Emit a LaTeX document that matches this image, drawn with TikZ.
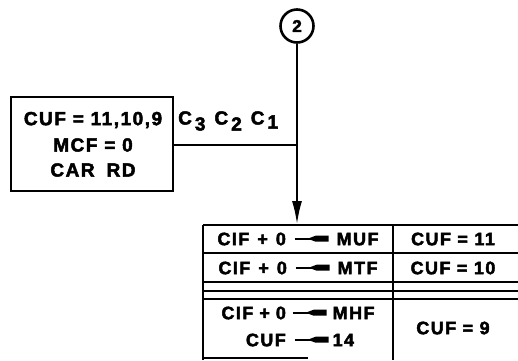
\documentclass[tikz,border=0pt]{standalone}
\usepackage{fontspec}
\setmainfont{Liberation Sans}[BoldFeatures={FakeBold=2.5}]
\usetikzlibrary{arrows.meta}
\tikzset{
  lbl/.style={font=\bfseries\fontsize{18}{20}\selectfont\addfontfeature{LetterSpace=8}, inner sep=0pt, align=center},
  boxlbl/.style={font=\bfseries\fontsize{19}{21}\selectfont\addfontfeature{LetterSpace=8}, inner sep=0pt, align=center},
  rule/.style={line width=2.6pt},
  thinrule/.style={line width=1.4pt},
}
\newcommand{\xarr}{\tikz[baseline=-6.5pt]{\draw[line width=1.6pt] (0,0)--(16pt,0); \fill (13pt,0)--(21pt,3pt)--(34pt,3pt)--(34pt,-3pt)--(21pt,-3pt)--cycle;}}
\newcommand{\gapx}{\hspace{8pt}}
\begin{document}
\begin{tikzpicture}[x=1pt,y=-1pt]
\useasboundingbox (0,0) rectangle (518,360);
% connector circle
\node[draw, rule, circle, minimum size=33pt, inner sep=0pt, font=\bfseries\fontsize{17}{19}\selectfont] (c2) at (297,26) {2};
% left box
\node[draw, rule, minimum width=162pt, minimum height=94pt, inner sep=0pt] (box) at (92,144) {};
\node[boxlbl] (t1) at (93,120) {CUF = 11,10,9};
\node[boxlbl] (t2) at (93,145) {MCF = 0};
\node[boxlbl] (t3) at (93,170) {CAR\hspace{12pt}RD};
\node[boxlbl, anchor=west] (cc) at (178,121) {C\hspace{3pt}\raisebox{-6pt}{3}\hspace{9pt}C\hspace{3pt}\raisebox{-6pt}{2}\hspace{9pt}C\hspace{3pt}\raisebox{-4pt}{1}};
% table geometry
\coordinate (tl) at (203,225);
\coordinate (tr) at (518,225);
\coordinate (top) at (297,225);
\coordinate (junc) at (297,145);
\draw[rule] (tl) -- (tr);
\draw[rule] (203,253) -- (518,253);
\draw[rule] (203,282) -- (518,282);
\draw[rule] (203,291) -- (518,291);
\draw[rule] (203,299) -- (518,299);
\draw[rule] (tl) -- (203,360);
\draw[rule] (393,225) -- (393,360);
\draw[thinrule] (203,358) -- (308,358);
% connectors
\draw[rule] (box.east |- junc) -- (junc);
\draw[rule, -{Latex[length=24pt,width=10pt]}] (c2.south) -- (top);
% table texts
\node[lbl] (r1a) at (298,239) {CIF\gapx+\gapx0\gapx\xarr\gapx MUF};
\node[lbl] (r1b) at (453,239) {CUF = 11};
\node[lbl] (r2a) at (298,268) {CIF\gapx+\gapx0\gapx\xarr\gapx MTF};
\node[lbl] (r2b) at (453,268) {CUF = 10};
\node[lbl] (r3a) at (298,313) {CIF\hspace{6pt}+\hspace{6pt}0\hspace{6pt}\xarr\hspace{6pt}MHF};
\node[lbl] (r3c) at (300,340) {CUF\gapx\xarr\hspace{4pt}14};
\node[lbl] (r3b) at (453,328) {CUF = 9};
\end{tikzpicture}
\end{document}
